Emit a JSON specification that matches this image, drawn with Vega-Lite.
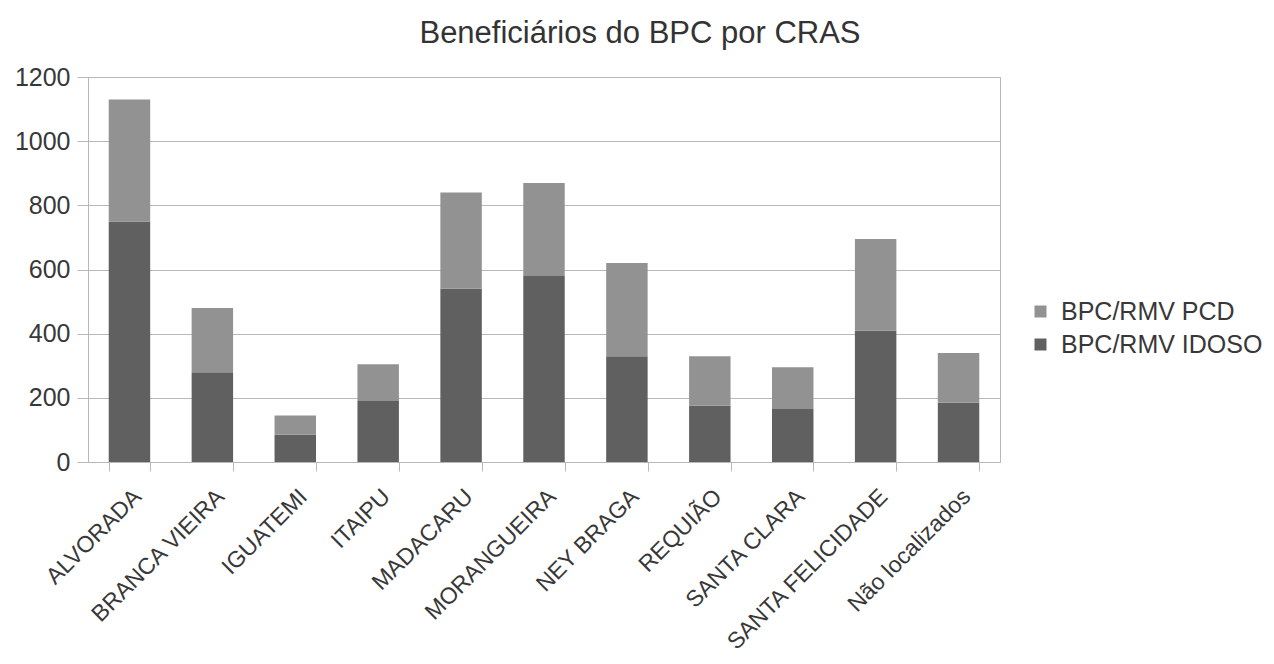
{
  "$schema": "https://vega.github.io/schema/vega-lite/v6.json",
  "autosize": {"type": "none"},
  "padding": {"left": 88, "top": 77, "right": 274, "bottom": 202},
  "width": 912,
  "height": 385,
  "background": "white",
  "title": {
    "text": "Beneficiários do BPC por CRAS",
    "font": "Liberation Sans",
    "fontSize": 31,
    "fontWeight": "normal",
    "color": "#333333",
    "anchor": "middle",
    "dx": 96,
    "dy": 41,
    "baseline": "alphabetic",
    "offset": 32
  },
  "config": {
    "view": {"stroke": "#b8b8b8", "strokeWidth": 1},
    "font": "Liberation Sans"
  },
  "data": {
    "values": [
      {"cras": "ALVORADA", "serie": "BPC/RMV IDOSO", "valor": 750},
      {"cras": "ALVORADA", "serie": "BPC/RMV PCD", "valor": 380},
      {"cras": "BRANCA VIEIRA", "serie": "BPC/RMV IDOSO", "valor": 280},
      {"cras": "BRANCA VIEIRA", "serie": "BPC/RMV PCD", "valor": 200},
      {"cras": "IGUATEMI", "serie": "BPC/RMV IDOSO", "valor": 85},
      {"cras": "IGUATEMI", "serie": "BPC/RMV PCD", "valor": 60},
      {"cras": "ITAIPU", "serie": "BPC/RMV IDOSO", "valor": 190},
      {"cras": "ITAIPU", "serie": "BPC/RMV PCD", "valor": 115},
      {"cras": "MADACARU", "serie": "BPC/RMV IDOSO", "valor": 540},
      {"cras": "MADACARU", "serie": "BPC/RMV PCD", "valor": 300},
      {"cras": "MORANGUEIRA", "serie": "BPC/RMV IDOSO", "valor": 580},
      {"cras": "MORANGUEIRA", "serie": "BPC/RMV PCD", "valor": 290},
      {"cras": "NEY BRAGA", "serie": "BPC/RMV IDOSO", "valor": 330},
      {"cras": "NEY BRAGA", "serie": "BPC/RMV PCD", "valor": 290},
      {"cras": "REQUIÃO", "serie": "BPC/RMV IDOSO", "valor": 175},
      {"cras": "REQUIÃO", "serie": "BPC/RMV PCD", "valor": 155},
      {"cras": "SANTA CLARA", "serie": "BPC/RMV IDOSO", "valor": 165},
      {"cras": "SANTA CLARA", "serie": "BPC/RMV PCD", "valor": 130},
      {"cras": "SANTA FELICIDADE", "serie": "BPC/RMV IDOSO", "valor": 410},
      {"cras": "SANTA FELICIDADE", "serie": "BPC/RMV PCD", "valor": 285},
      {"cras": "Não localizados", "serie": "BPC/RMV IDOSO", "valor": 185},
      {"cras": "Não localizados", "serie": "BPC/RMV PCD", "valor": 155}
    ]
  },
  "mark": {"type": "bar"},
  "encoding": {
    "x": {
      "field": "cras",
      "type": "nominal",
      "sort": null,
      "scale": {"paddingInner": 0.5, "paddingOuter": 0.25},
      "axis": {
        "title": null,
        "labelAngle": -45,
        "labelFont": "Liberation Sans",
        "labelFontSize": 23,
        "labelColor": "#383838",
        "labelPadding": 14,
        "labelLimit": 400,
        "tickBand": "extent",
        "tickSize": 9,
        "tickColor": "#b8b8b8",
        "domainColor": "#b8b8b8",
        "grid": false,
        "labelOverlap": false
      }
    },
    "y": {
      "field": "valor",
      "type": "quantitative",
      "aggregate": "sum",
      "stack": "zero",
      "scale": {"domain": [0, 1200], "nice": false},
      "axis": {
        "title": null,
        "values": [0, 200, 400, 600, 800, 1000, 1200],
        "format": "d",
        "labelFont": "Liberation Sans",
        "labelFontSize": 25,
        "labelColor": "#383838",
        "labelPadding": 7,
        "tickSize": 11,
        "tickColor": "#b8b8b8",
        "gridColor": "#b8b8b8",
        "domain": false
      }
    },
    "color": {
      "field": "serie",
      "type": "nominal",
      "scale": {
        "domain": ["BPC/RMV PCD", "BPC/RMV IDOSO"],
        "range": ["#929292", "#606060"]
      },
      "legend": {
        "title": null,
        "orient": "none",
        "legendX": 940,
        "legendY": 222,
        "symbolType": "square",
        "symbolSize": 144,
        "symbolStrokeWidth": 0,
        "labelFont": "Liberation Sans",
        "labelFontSize": 25,
        "labelColor": "#383838",
        "labelLimit": 400,
        "rowPadding": 7,
        "labelOffset": 8
      }
    },
    "order": {"field": "serie", "sort": "ascending"}
  }
}
